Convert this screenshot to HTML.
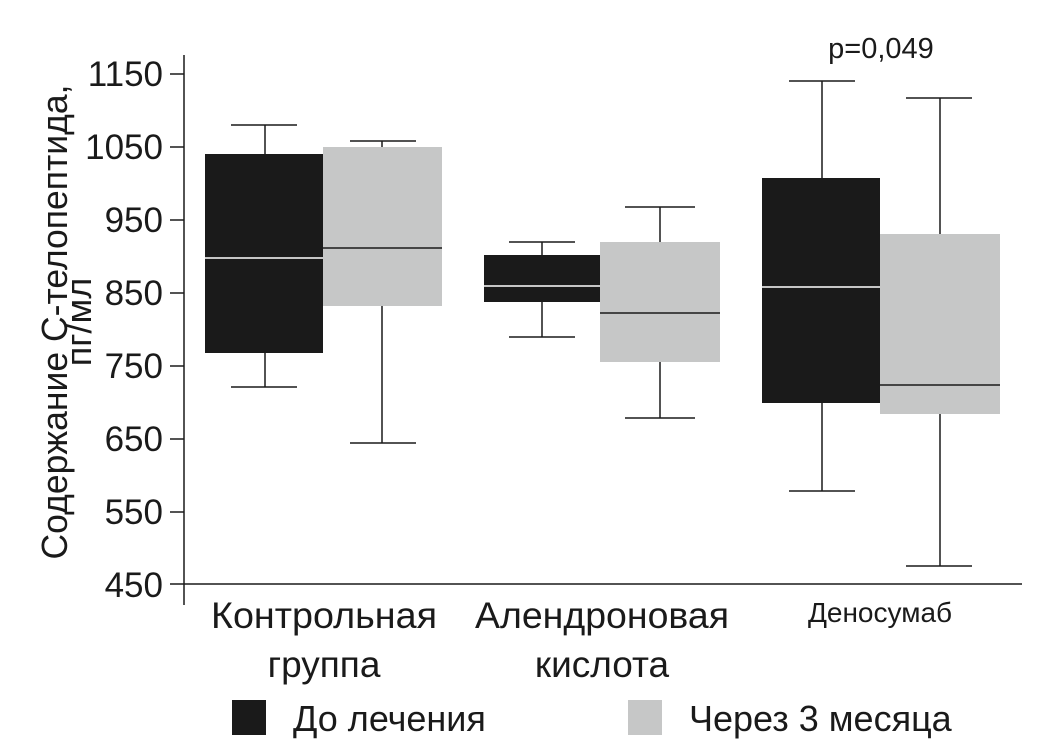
<!DOCTYPE html><html><head><style>body{margin:0;background:#fff}</style></head><body>
<svg width="1053" height="748" xmlns="http://www.w3.org/2000/svg" font-family="Liberation Sans, DejaVu Sans, sans-serif">
<g stroke="#1a1a1a" stroke-width="1.5" fill="none">
<line x1="184" y1="55" x2="184" y2="605"/>
<line x1="170" y1="584" x2="1022" y2="584"/>
<line x1="170" y1="74" x2="184" y2="74"/><line x1="170" y1="147" x2="184" y2="147"/>
<line x1="170" y1="220" x2="184" y2="220"/><line x1="170" y1="293" x2="184" y2="293"/>
<line x1="170" y1="366" x2="184" y2="366"/><line x1="170" y1="439" x2="184" y2="439"/>
<line x1="170" y1="512" x2="184" y2="512"/>
<path d="M265 125V387M231 125H297M231 387H297"/>
<path d="M382 141V443M350 141H416M350 443H416"/>
<path d="M542 242V337M509 242H575M509 337H575"/>
<path d="M660 207V418M625 207H695M625 418H695"/>
<path d="M822 81V491M789 81H855M789 491H855"/>
<path d="M940 98V566M906 98H972M906 566H972"/>
</g>
<rect x="205" y="154" width="118" height="199" fill="#1a1a1a"/>
<rect x="323" y="147" width="119" height="159" fill="#c6c7c7"/>
<rect x="484" y="255" width="116" height="47" fill="#1a1a1a"/>
<rect x="600" y="242" width="120" height="120" fill="#c6c7c7"/>
<rect x="762" y="178" width="118" height="225" fill="#1a1a1a"/>
<rect x="880" y="234" width="120" height="180" fill="#c6c7c7"/>
<g stroke-width="1.5">
<line x1="205" y1="258" x2="323" y2="258" stroke="#fff"/>
<line x1="323" y1="248" x2="442" y2="248" stroke="#1a1a1a"/>
<line x1="484" y1="286" x2="600" y2="286" stroke="#fff"/>
<line x1="600" y1="313" x2="720" y2="313" stroke="#1a1a1a"/>
<line x1="762" y1="287" x2="880" y2="287" stroke="#fff"/>
<line x1="880" y1="385" x2="1000" y2="385" stroke="#1a1a1a"/>
</g>
<g font-size="35" fill="#1a1a1a" text-anchor="end">
<text x="163" y="86">1150</text><text x="163" y="159">1050</text><text x="163" y="232">950</text>
<text x="163" y="305">850</text><text x="163" y="378">750</text><text x="163" y="451">650</text>
<text x="163" y="524">550</text><text x="163" y="597">450</text>
</g>
<g font-size="37" fill="#1a1a1a" text-anchor="middle">
<text x="324" y="628" textLength="226" lengthAdjust="spacingAndGlyphs">Контрольная</text><text x="324" y="677">группа</text>
<text x="602" y="628" textLength="254" lengthAdjust="spacingAndGlyphs">Алендроновая</text><text x="602" y="677">кислота</text>
<text x="880" y="622" font-size="28">Деносумаб</text>
<text x="881" y="58" font-size="29">p=0,049</text>
<g transform="translate(0,322) rotate(-90)" font-size="36"><text x="0" y="67" textLength="475" lengthAdjust="spacingAndGlyphs">Содержание С-телопептида,</text><text x="0" y="91">пг/мл</text></g>
</g>
<rect x="232" y="700" width="34" height="35" fill="#1a1a1a"/>
<rect x="628" y="700" width="34" height="35" fill="#c6c7c7"/>
<g font-size="36" fill="#1a1a1a"><text x="293" y="731">До лечения</text><text x="689" y="731">Через 3 месяца</text></g>
</svg></body></html>
